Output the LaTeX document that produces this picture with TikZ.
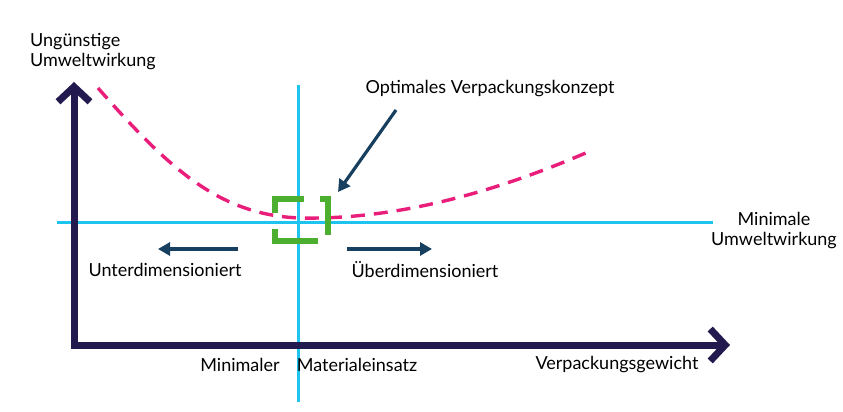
\documentclass[tikz,border=0pt]{standalone}
\usepackage{fontspec}
\setmainfont{Lato}
\usetikzlibrary{arrows.meta}
\definecolor{navy}{HTML}{221A4E}
\definecolor{dblue}{HTML}{173F5F}
\definecolor{cyanl}{HTML}{1FC3F0}
\definecolor{pinkc}{HTML}{E91E7A}
\definecolor{greenc}{HTML}{4CAF2F}
\begin{document}
\begin{tikzpicture}[x=1pt,y=-1pt,
  axis/.style={navy,line width=7pt,-{Straight Barb[length=15pt,width=32pt,line width=7pt]}},
  guide/.style={cyanl,line width=3pt},
  hint/.style={dblue,line width=3.2pt,-{Triangle[length=12pt,width=13pt]}},
  lbl/.style={font=\fontsize{18}{20}\selectfont,inner sep=0pt},
  br/.style={greenc,line width=6pt}]
\useasboundingbox (0,0) rectangle (843,412);
\coordinate (o) at (74,345);
\coordinate (ytip) at (74,82);
\coordinate (xtip) at (730,345);
\draw[guide] (298,85) coordinate(vt) -- (298,402) coordinate(vb);
\draw[guide] (57,222) coordinate(hl) -- (713,222) coordinate(hr);
\draw[pinkc,line width=3.4pt,dash pattern=on 14pt off 9pt]
  (98,88) coordinate(c0) .. controls (170,170) and (220,215) .. (300,218) coordinate(c1)
  .. controls (400,220) and (500,190) .. (588,152) coordinate(c2);
\draw[br] (275,213) -- (275,199) -- (304,199);
\draw[br] (275,229) -- (275,241) -- (318,241);
\draw[br] (320,199) -- (328,199) -- (328,235);
\draw[axis] (74,348) -- (ytip);
\draw[axis] (70.5,345) -- (xtip);
\draw[hint] (396,110) coordinate(a0) -- (338,192) coordinate(a1);
\draw[hint] (238,249) coordinate(l0) -- (158,249) coordinate(l1);
\draw[hint] (347,249) coordinate(r0) -- (432,249) coordinate(r1);
\node[lbl,anchor=north west,align=left] (t1) at (30,33) {Ungünstige\\Umweltwirkung};
\node[lbl] (t2) at (490,89) {Optimales Verpackungskonzept};
\node[lbl,align=center] (t3) at (774,231) {Minimale\\Umweltwirkung};
\node[lbl] (t4) at (165,270) {Unterdimensioniert};
\node[lbl] (t5) at (425,270) {Überdimensioniert};
\node[lbl] (t6) at (240,365) {Minimaler};
\node[lbl] (t7) at (357,365) {Materialeinsatz};
\node[lbl] (t8) at (617,365) {Verpackungsgewicht};
\end{tikzpicture}
\end{document}
